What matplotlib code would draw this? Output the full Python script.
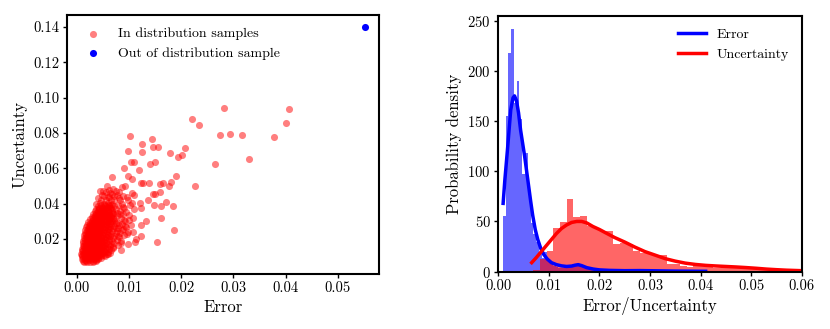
"""
Scatter of error vs uncertainty and their distributions (two panels)
"""

import numpy as np
import matplotlib
matplotlib.use('Agg')
import matplotlib.pyplot as plt
from matplotlib.ticker import FormatStrFormatter, MultipleLocator

# ---------------- data ----------------

# in-distribution samples, the dense cluster near the origin (row by row)
blob_err = [
    0.0013, 0.0019, 0.0026, 0.0031, 0.0037,
    0.0010, 0.0016, 0.0022, 0.0029, 0.0034, 0.0041,
    0.0009, 0.0015, 0.0021, 0.0027, 0.0034, 0.0039, 0.0046, 0.0053,
    0.0008, 0.0014, 0.0020, 0.0026, 0.0032, 0.0038, 0.0045, 0.0050, 0.0058,
    0.0009, 0.0015, 0.0022, 0.0027, 0.0033, 0.0040, 0.0045, 0.0052, 0.0059,
    0.0010, 0.0016, 0.0022, 0.0028, 0.0035, 0.0040, 0.0046, 0.0053, 0.0061,
    0.0011, 0.0017, 0.0023, 0.0030, 0.0035, 0.0041, 0.0048, 0.0054, 0.0063,
    0.0012, 0.0018, 0.0024, 0.0030, 0.0036, 0.0043, 0.0048, 0.0055, 0.0066,
    0.0012, 0.0019, 0.0024, 0.0030, 0.0037, 0.0042, 0.0049, 0.0056, 0.0068,
    0.0013, 0.0019, 0.0025, 0.0032, 0.0037, 0.0043, 0.0050, 0.0057, 0.0069,
    0.0014, 0.0020, 0.0027, 0.0032, 0.0038, 0.0045, 0.0050, 0.0059, 0.0071,
    0.0015, 0.0021, 0.0027, 0.0034, 0.0039, 0.0045, 0.0052, 0.0061, 0.0074,
    0.0016, 0.0023, 0.0028, 0.0034, 0.0041, 0.0046, 0.0053, 0.0062, 0.0077,
    0.0018, 0.0024, 0.0031, 0.0036, 0.0042, 0.0049, 0.0055, 0.0064, 0.0078,
    0.0020, 0.0026, 0.0032, 0.0039, 0.0044, 0.0050, 0.0057, 0.0066, 0.0080,
    0.0022, 0.0029, 0.0034, 0.0040, 0.0047, 0.0052, 0.0059, 0.0068, 0.0079,
    0.0025, 0.0031, 0.0038, 0.0043, 0.0049, 0.0056, 0.0062, 0.0071,
    0.0028, 0.0034, 0.0041, 0.0046, 0.0052, 0.0059, 0.0065, 0.0076,
    0.0031, 0.0037, 0.0044, 0.0049, 0.0055, 0.0062, 0.0070, 0.0082,
    0.0034, 0.0041, 0.0046, 0.0052, 0.0060, 0.0067,
    0.0037, 0.0043, 0.0050, 0.0056, 0.0064, 0.0074,
    0.0041, 0.0048, 0.0054, 0.0062, 0.0071,
    0.0044, 0.0051, 0.0059, 0.0068,
    0.0047, 0.0056, 0.0066,
    0.0052, 0.0061, 0.0072,
    0.0055, 0.0064,
]
blob_unc = [
    0.0071, 0.0068, 0.0072, 0.0069, 0.0074,
    0.0086, 0.0083, 0.0087, 0.0084, 0.0088, 0.0085,
    0.0101, 0.0098, 0.0102, 0.0099, 0.0103, 0.0097, 0.0101, 0.0104,
    0.0116, 0.0113, 0.0117, 0.0114, 0.0118, 0.0112, 0.0116, 0.0119, 0.0113,
    0.0131, 0.0128, 0.0132, 0.0129, 0.0133, 0.0127, 0.0131, 0.0134, 0.0128,
    0.0146, 0.0143, 0.0147, 0.0144, 0.0148, 0.0142, 0.0146, 0.0149, 0.0143,
    0.0161, 0.0158, 0.0162, 0.0159, 0.0163, 0.0157, 0.0161, 0.0164, 0.0158,
    0.0176, 0.0173, 0.0177, 0.0174, 0.0178, 0.0172, 0.0176, 0.0179, 0.0173,
    0.0191, 0.0188, 0.0192, 0.0189, 0.0193, 0.0187, 0.0191, 0.0194, 0.0188,
    0.0206, 0.0203, 0.0207, 0.0204, 0.0208, 0.0202, 0.0206, 0.0209, 0.0203,
    0.0221, 0.0218, 0.0222, 0.0219, 0.0223, 0.0217, 0.0221, 0.0224, 0.0218,
    0.0236, 0.0233, 0.0237, 0.0234, 0.0238, 0.0232, 0.0236, 0.0239, 0.0233,
    0.0251, 0.0248, 0.0252, 0.0249, 0.0253, 0.0247, 0.0251, 0.0254, 0.0248,
    0.0266, 0.0263, 0.0267, 0.0264, 0.0268, 0.0262, 0.0266, 0.0269, 0.0263,
    0.0281, 0.0278, 0.0282, 0.0279, 0.0283, 0.0277, 0.0281, 0.0284, 0.0278,
    0.0296, 0.0293, 0.0297, 0.0294, 0.0298, 0.0292, 0.0296, 0.0299, 0.0293,
    0.0311, 0.0308, 0.0312, 0.0309, 0.0313, 0.0307, 0.0311, 0.0314,
    0.0326, 0.0323, 0.0327, 0.0324, 0.0328, 0.0322, 0.0326, 0.0329,
    0.0341, 0.0338, 0.0342, 0.0339, 0.0343, 0.0337, 0.0341, 0.0344,
    0.0356, 0.0353, 0.0357, 0.0354, 0.0358, 0.0352,
    0.0371, 0.0368, 0.0372, 0.0369, 0.0373, 0.0367,
    0.0386, 0.0383, 0.0387, 0.0384, 0.0388,
    0.0401, 0.0398, 0.0402, 0.0399,
    0.0421, 0.0418, 0.0422,
    0.0441, 0.0438, 0.0443,
    0.0466, 0.0462,
]

# in-distribution samples, more points filling the core of the cluster
core_err = [
    0.0012, 0.0018, 0.0024, 0.0030, 0.0036,
    0.0011, 0.0017, 0.0023, 0.0029, 0.0035, 0.0041, 0.0047,
    0.0010, 0.0016, 0.0022, 0.0028, 0.0034, 0.0040, 0.0046, 0.0052,
    0.0011, 0.0017, 0.0023, 0.0029, 0.0035, 0.0041, 0.0047, 0.0054,
    0.0012, 0.0018, 0.0024, 0.0030, 0.0036, 0.0042, 0.0048, 0.0056,
    0.0013, 0.0019, 0.0025, 0.0031, 0.0037, 0.0043, 0.0050, 0.0058,
    0.0014, 0.0020, 0.0026, 0.0032, 0.0038, 0.0044, 0.0051, 0.0060,
    0.0015, 0.0021, 0.0027, 0.0033, 0.0039, 0.0045, 0.0052, 0.0061,
    0.0016, 0.0022, 0.0028, 0.0034, 0.0040, 0.0046, 0.0053, 0.0062,
    0.0017, 0.0023, 0.0029, 0.0035, 0.0041, 0.0047, 0.0055, 0.0064,
    0.0018, 0.0024, 0.0030, 0.0036, 0.0042, 0.0049, 0.0057, 0.0066,
    0.0019, 0.0025, 0.0031, 0.0037, 0.0043, 0.0050, 0.0058, 0.0068,
    0.0021, 0.0027, 0.0033, 0.0039, 0.0045, 0.0052, 0.0060, 0.0070,
    0.0023, 0.0029, 0.0035, 0.0041, 0.0047, 0.0054, 0.0062, 0.0072,
    0.0025, 0.0031, 0.0037, 0.0043, 0.0049, 0.0056, 0.0064, 0.0074,
    0.0028, 0.0034, 0.0040, 0.0046, 0.0052, 0.0058, 0.0066,
    0.0031, 0.0037, 0.0043, 0.0049, 0.0055, 0.0061, 0.0069,
    0.0034, 0.0040, 0.0046, 0.0052, 0.0058, 0.0065,
    0.0037, 0.0043, 0.0049, 0.0055, 0.0062, 0.0070,
    0.0040, 0.0046, 0.0053, 0.0060, 0.0068,
    0.0043, 0.0050, 0.0057, 0.0065,
    0.0047, 0.0054, 0.0062,
]
core_unc = [
    0.0078, 0.0076, 0.0079, 0.0077, 0.0080,
    0.0093, 0.0091, 0.0094, 0.0092, 0.0095, 0.0090, 0.0093,
    0.0108, 0.0106, 0.0109, 0.0107, 0.0110, 0.0105, 0.0108, 0.0111,
    0.0123, 0.0121, 0.0124, 0.0122, 0.0125, 0.0120, 0.0123, 0.0126,
    0.0138, 0.0136, 0.0139, 0.0137, 0.0140, 0.0135, 0.0138, 0.0141,
    0.0153, 0.0151, 0.0154, 0.0152, 0.0155, 0.0150, 0.0153, 0.0156,
    0.0168, 0.0166, 0.0169, 0.0167, 0.0170, 0.0165, 0.0168, 0.0171,
    0.0183, 0.0181, 0.0184, 0.0182, 0.0185, 0.0180, 0.0183, 0.0186,
    0.0198, 0.0196, 0.0199, 0.0197, 0.0200, 0.0195, 0.0198, 0.0201,
    0.0213, 0.0211, 0.0214, 0.0212, 0.0215, 0.0210, 0.0213, 0.0216,
    0.0228, 0.0226, 0.0229, 0.0227, 0.0230, 0.0225, 0.0228, 0.0231,
    0.0243, 0.0241, 0.0244, 0.0242, 0.0245, 0.0240, 0.0243, 0.0246,
    0.0258, 0.0256, 0.0259, 0.0257, 0.0260, 0.0255, 0.0258, 0.0261,
    0.0273, 0.0271, 0.0274, 0.0272, 0.0275, 0.0270, 0.0273, 0.0276,
    0.0288, 0.0286, 0.0289, 0.0287, 0.0290, 0.0285, 0.0288, 0.0291,
    0.0303, 0.0301, 0.0304, 0.0302, 0.0305, 0.0300, 0.0303,
    0.0318, 0.0316, 0.0319, 0.0317, 0.0320, 0.0315, 0.0318,
    0.0333, 0.0331, 0.0334, 0.0332, 0.0335, 0.0330,
    0.0348, 0.0346, 0.0349, 0.0347, 0.0350, 0.0345,
    0.0363, 0.0361, 0.0364, 0.0362, 0.0365,
    0.0378, 0.0376, 0.0379, 0.0377,
    0.0393, 0.0391, 0.0394,
]

# in-distribution samples, the fringe on the right of the cluster
fringe_err = [
    0.0060, 0.0068, 0.0075, 0.0062, 0.0048, 0.0072, 0.0080, 0.0088, 0.0078,
    0.0086, 0.0090, 0.0082, 0.0076, 0.0088, 0.0095, 0.0084, 0.0092, 0.0086,
    0.0094, 0.0088, 0.0083, 0.0090, 0.0080, 0.0076, 0.0085, 0.0072, 0.0078,
    0.0070, 0.0066, 0.0064, 0.0098, 0.0102, 0.0100, 0.0104, 0.0096, 0.0058,
    0.0040, 0.0036, 0.0066, 0.0072, 0.0074, 0.0064,
]
fringe_unc = [
    0.0440, 0.0455, 0.0470, 0.0475, 0.0450, 0.0420, 0.0430, 0.0445, 0.0395,
    0.0400, 0.0375, 0.0360, 0.0345, 0.0340, 0.0355, 0.0318, 0.0300, 0.0285,
    0.0270, 0.0255, 0.0235, 0.0220, 0.0210, 0.0195, 0.0190, 0.0180, 0.0165,
    0.0150, 0.0135, 0.0120, 0.0420, 0.0390, 0.0310, 0.0280, 0.0230, 0.0500,
    0.0430, 0.0400, 0.0390, 0.0300, 0.0260, 0.0330,
]

# in-distribution samples, the scattered points outside the cluster
spread_err = [
    0.0282, 0.0407, 0.0220, 0.0234, 0.0400, 0.0274, 0.0293, 0.0316, 0.0378,
    0.0102, 0.0144, 0.0124, 0.0145, 0.0155, 0.0208, 0.0098, 0.0125, 0.0178,
    0.0202, 0.0194, 0.0330, 0.0103, 0.0109, 0.0149, 0.0141, 0.0265, 0.0091,
    0.0119, 0.0097, 0.0068, 0.0190, 0.0105, 0.0226, 0.0123, 0.0126, 0.0139,
    0.0159, 0.0165, 0.0176, 0.0181, 0.0087, 0.0093, 0.0045, 0.0050, 0.0070,
    0.0080, 0.0106, 0.0146, 0.0160, 0.0150, 0.0137, 0.0147, 0.0162, 0.0170,
    0.0185, 0.0120, 0.0110, 0.0123, 0.0161, 0.0132, 0.0187, 0.0154, 0.0123,
    0.0114, 0.0112, 0.0097, 0.0084, 0.0107, 0.0097, 0.0122, 0.0108, 0.0110,
    0.0105, 0.0096, 0.0100, 0.0091, 0.0086, 0.0079, 0.0060, 0.0070, 0.0088,
    0.0082, 0.0076, 0.0092, 0.0085,
]
spread_unc = [
    0.0942, 0.0934, 0.0881, 0.0844, 0.0857, 0.0789, 0.0792, 0.0789, 0.0777,
    0.0783, 0.0764, 0.0738, 0.0722, 0.0721, 0.0717, 0.0700, 0.0690, 0.0686,
    0.0673, 0.0666, 0.0654, 0.0637, 0.0633, 0.0635, 0.0624, 0.0622, 0.0603,
    0.0588, 0.0556, 0.0550, 0.0556, 0.0539, 0.0501, 0.0514, 0.0514, 0.0516,
    0.0510, 0.0514, 0.0501, 0.0522, 0.0492, 0.0499, 0.0471, 0.0469, 0.0480,
    0.0463, 0.0461, 0.0457, 0.0467, 0.0454, 0.0418, 0.0393, 0.0387, 0.0412,
    0.0386, 0.0404, 0.0446, 0.0378, 0.0321, 0.0302, 0.0253, 0.0183, 0.0215,
    0.0198, 0.0185, 0.0170, 0.0177, 0.0240, 0.0242, 0.0279, 0.0321, 0.0370,
    0.0404, 0.0439, 0.0334, 0.0306, 0.0249, 0.0217, 0.0117, 0.0155, 0.0380,
    0.0420, 0.0450, 0.0275, 0.0135,
]

# out of distribution sample
ood_err = [0.0552]
ood_unc = [0.1400]

# histogram of the error (density), fixed-width bins
err_bin_start = 0.00088
err_bin_width = 0.00055
err_hist = [55, 155, 218, 242, 168, 190, 152, 97, 118, 80,
            48, 38, 30, 19, 14, 20, 12, 8, 6, 5,
            4, 4, 5, 6, 7, 8, 7, 8, 6, 5,
            4, 3, 3, 2, 2, 2, 1.5, 1.5, 1, 1,
            1, 1, 1, 1, 1, 1, 1, 1.5, 1.5, 1,
            1, 1, 0.5, 0.5, 0.5, 0.5, 0.5, 0.5, 0.5, 0.5,
            0.5, 0.5, 0.5, 0.5, 0.5, 0.5, 0.5, 0.5, 0.5, 0.5,
            0.5, 0.5, 0.5]

# histogram of the uncertainty (density)
unc_bin_start = 0.0069
unc_bin_width = 0.00132
unc_hist = [2, 13, 21, 43, 49, 72, 54, 55, 45, 43,
            40, 40, 28, 29, 28, 21, 19, 18, 17, 17,
            8, 8, 6, 5, 7, 7, 5, 3.5, 3.5, 5,
            5, 4, 4, 5, 2, 1.5, 1.5, 1, 1, 1, 1]

# kernel density estimates
kde_err_x = [0.00095, 0.0013, 0.0018, 0.00245, 0.0029, 0.0032, 0.0036, 0.0040,
             0.0044, 0.0048, 0.0052, 0.0056, 0.0060, 0.0064, 0.0068, 0.0073,
             0.0078, 0.0084, 0.0090, 0.0097, 0.0105, 0.0115, 0.0125, 0.0135,
             0.0145, 0.0152, 0.0158, 0.0165, 0.0175, 0.0188, 0.0200, 0.0220,
             0.0250, 0.0280, 0.0310, 0.0350, 0.0410]
kde_err_y = [68, 92, 121, 161, 173, 175, 170, 158,
             141, 128, 115, 100, 85, 70, 56, 42,
             32, 23, 17, 12.5, 9, 7, 5.8, 5.2,
             5.6, 6.5, 7, 6, 4, 2.6, 1.8, 1.3,
             1.0, 1.1, 0.9, 0.6, 0.4]

kde_unc_x = [0.0066, 0.0075, 0.0085, 0.0095, 0.0105, 0.0115, 0.0125, 0.0135,
             0.0145, 0.0155, 0.0165, 0.0175, 0.0187, 0.0200, 0.0213, 0.0230,
             0.0250, 0.0270, 0.0290, 0.0310, 0.0330, 0.0350, 0.0370, 0.0390,
             0.0410, 0.0430, 0.0450, 0.0470, 0.0490, 0.0510, 0.0530, 0.0550,
             0.0570, 0.0600, 0.0630]
kde_unc_y = [9, 14, 20, 26, 32, 38, 43, 46.5,
             49, 50, 50, 48.5, 45, 42, 38.5, 34,
             29.5, 24.5, 20, 16.5, 13, 10.5, 8.5, 7.2,
             6.3, 5.7, 5.2, 4.7, 4.1, 3.4, 2.6, 2.0,
             1.5, 1.0, 0.8]

# ---------------- plotting ----------------

plt.rcParams['font.family'] = 'cmr10'
plt.rcParams['mathtext.fontset'] = 'cm'
plt.rcParams['axes.formatter.use_mathtext'] = True
plt.rcParams['axes.unicode_minus'] = False

plt.close('all')
fig = plt.figure(figsize=(8.3, 3.29), dpi=100)

ax1 = fig.add_axes([0.0807, 0.1672, 0.3759, 0.7872])
ax2 = fig.add_axes([0.6004, 0.1742, 0.3655, 0.7772])

# left panel: scatter
id_err = blob_err + core_err + fringe_err + spread_err
id_unc = blob_unc + core_unc + fringe_unc + spread_unc
ax1.scatter(id_err, id_unc, s=26, color='red', alpha=0.5, linewidths=0,
            label='In distribution samples')
ax1.scatter(ood_err, ood_unc, s=26, color='blue', linewidths=0,
            label='Out of distribution sample')
ax1.set_xlim(-0.0019, 0.0579)
ax1.set_ylim(0.0002, 0.1467)
ax1.xaxis.set_major_locator(MultipleLocator(0.01))
ax1.yaxis.set_major_locator(MultipleLocator(0.02))
ax1.xaxis.set_major_formatter(FormatStrFormatter('%.2f'))
ax1.yaxis.set_major_formatter(FormatStrFormatter('%.2f'))
ax1.set_xlabel('Error', fontsize=12, labelpad=3)
ax1.set_ylabel('Uncertainty', fontsize=12, labelpad=4)
ax1.legend(loc='upper left', frameon=False, fontsize=10, scatterpoints=1)

# right panel: histograms + kde
err_edges = err_bin_start + err_bin_width * np.arange(len(err_hist))
unc_edges = unc_bin_start + unc_bin_width * np.arange(len(unc_hist))
ax2.bar(err_edges, err_hist, width=err_bin_width, align='edge',
        color='blue', alpha=0.6, linewidth=0)
ax2.bar(unc_edges, unc_hist, width=unc_bin_width, align='edge',
        color='red', alpha=0.6, linewidth=0)
ax2.plot(kde_err_x, kde_err_y, color='blue', lw=2.5, label='Error')
ax2.plot(kde_unc_x, kde_unc_y, color='red', lw=2.5, label='Uncertainty')
ax2.set_xlim(0, 0.06)
ax2.set_ylim(0, 254.5)
ax2.xaxis.set_major_locator(MultipleLocator(0.01))
ax2.yaxis.set_major_locator(MultipleLocator(50))
ax2.xaxis.set_major_formatter(FormatStrFormatter('%.2f'))
ax2.set_xlabel('Error/Uncertainty', fontsize=12, labelpad=3)
ax2.set_ylabel('Probability density', fontsize=12, labelpad=4)
ax2.legend(loc='upper right', frameon=False, fontsize=10)

for ax in (ax1, ax2):
    for sp in ax.spines.values():
        sp.set_linewidth(1.5)
    ax.tick_params(labelsize=10.5, length=3, width=1, pad=2.5)

fig.savefig('out.png', dpi=100)
